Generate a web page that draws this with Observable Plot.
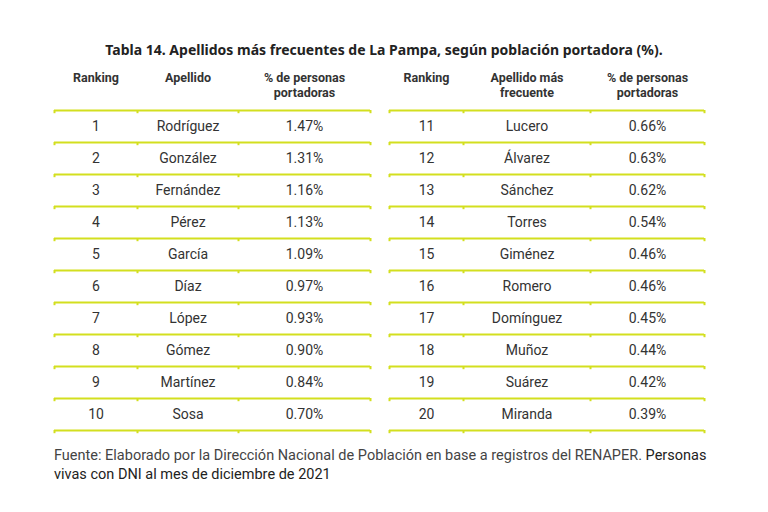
<!DOCTYPE html>
<html><head><meta charset="utf-8">
<script src="https://cdn.jsdelivr.net/npm/d3@7"></script>
<script src="https://cdn.jsdelivr.net/npm/@observablehq/plot@0.6"></script>
<style>
body{margin:0;background:#fff;width:768px;height:512px;overflow:hidden;font-family:Roboto,sans-serif;}
#title{position:absolute;top:40px;left:0;width:768px;text-align:center;font-family:"Noto Sans",sans-serif;font-weight:bold;font-size:14px;line-height:20px;color:#222;}
#chart{position:absolute;top:60px;left:0;}
#caption{position:absolute;left:54px;top:446px;font-size:14.5px;line-height:19px;color:#444;}
</style></head><body>
<div id="title">Tabla 14. Apellidos más frecuentes de La Pampa, según población portadora (%).</div>
<div id="chart"></div>
<div id="caption">Fuente: Elaborado por la Dirección Nacional de Población en base a registros del RENAPER. <span style="color:#222">Personas</span><br><span style="color:#222">vivas con DNI al mes de diciembre de 2021</span></div>
<script>
const ranks = [1,2,3,4,5,6,7,8,9,10,11,12,13,14,15,16,17,18,19,20];
const surnames = ["Rodríguez","González","Fernández","Pérez","García","Díaz","López","Gómez","Martínez","Sosa",
  "Lucero","Álvarez","Sánchez","Torres","Giménez","Romero","Domínguez","Muñoz","Suárez","Miranda"];
const percents = [1.47,1.31,1.16,1.13,1.09,0.97,0.93,0.90,0.84,0.70,
  0.66,0.63,0.62,0.54,0.46,0.46,0.45,0.44,0.42,0.39];
const headersLeft = ["Ranking","Apellido","% de personas\nportadoras"];
const headersRight = ["Ranking","Apellido más\nfrecuente","% de personas\nportadoras"];

// layout (column boundaries of each table, in pixels)
const tableCols = [[54,137,238,370],[389,463,590,704]];
const rowsPerTable = 10;
const center = (t, c) => (tableCols[t][c] + tableCols[t][c+1]) / 2;

const fmt = d3.format(".2f");
const cells = [];
ranks.forEach((r, i) => {
  const t = Math.floor(i / rowsPerTable), row = i % rowsPerTable;
  cells.push({x: center(t,0), y: row, text: String(r)});
  cells.push({x: center(t,1), y: row, text: surnames[i]});
  cells.push({x: center(t,2), y: row, text: fmt(percents[i]) + "%"});
});
const headers = [];
[headersLeft, headersRight].forEach((hs, t) => hs.forEach((h, c) => headers.push({x: center(t,c), text: h})));
const lines = [], ticks = [];
tableCols.forEach(cols => {
  for (let k = 0; k <= rowsPerTable; k++) {
    const y = k - 0.5;
    lines.push({y, x1: cols[0], x2: cols[cols.length-1]});
    cols.forEach(x => ticks.push({x, y}));
  }
});

const lineColor = "#d3df1f";
const plot = Plot.plot({
  width: 768, height: 380, margin: 0,
  style: {fontFamily: "Roboto, sans-serif", background: "transparent"},
  x: {domain: [0, 768], range: [0, 768], axis: null},
  y: {domain: [0, 9], range: [66, 354], axis: null},
  marks: [
    Plot.ruleY(lines, {y: "y", x1: "x1", x2: "x2", stroke: lineColor, strokeWidth: 2.2}),
    Plot.ruleX(ticks, {x: "x", y1: d => d.y, y2: d => d.y + 0.1, stroke: lineColor, strokeWidth: 2}),
    Plot.text(cells, {x: "x", y: "y", text: "text", fontSize: 14, fill: "#333"}),
    Plot.text(headers, {x: "x", y: -1.75, text: "text", lineAnchor: "top", fontWeight: "bold", fontSize: 12.5, lineHeight: 1.25, fill: "#333"})
  ]
});
document.getElementById("chart").appendChild(plot);
</script>
</body></html>
